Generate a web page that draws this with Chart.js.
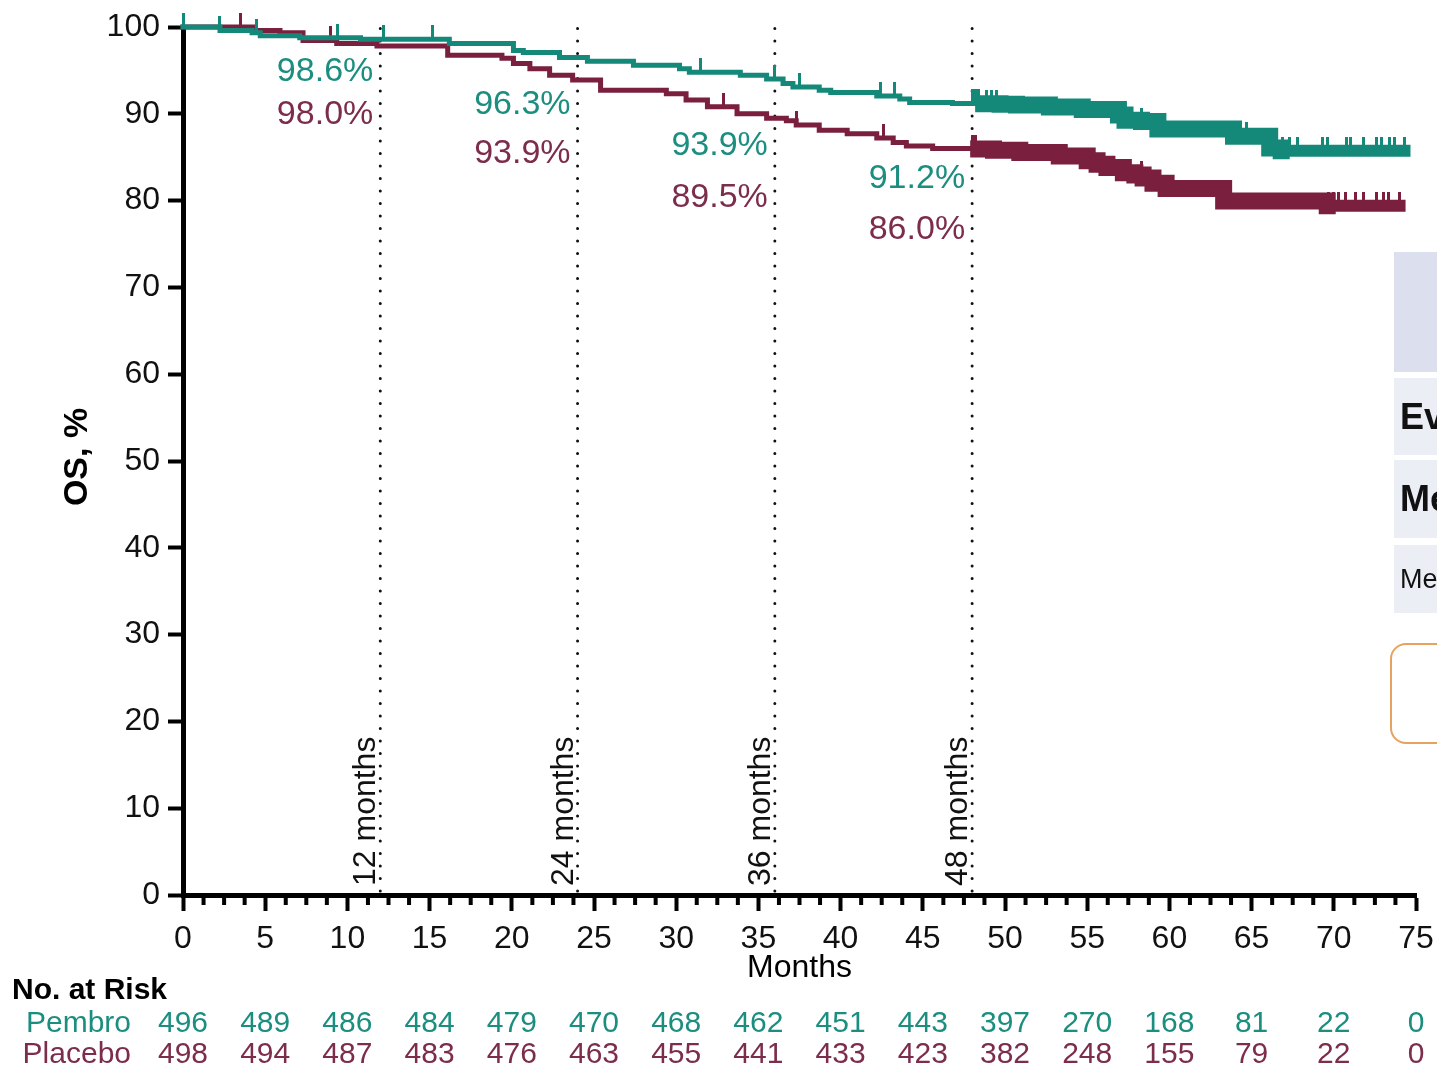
<!DOCTYPE html>
<html><head><meta charset="utf-8">
<script src="https://cdn.jsdelivr.net/npm/chart.js@4.4.1/dist/chart.umd.min.js"></script>
<style>
html,body{margin:0;padding:0;background:#fff;overflow:hidden;width:1437px;height:1066px;}
#wrap{position:relative;width:1437px;height:1066px;overflow:hidden;}
canvas{position:absolute;left:0;top:0;}
.panel{position:absolute;left:1394px;width:220px;font-family:"Liberation Sans",Arial,sans-serif;color:#111;box-sizing:border-box;padding-left:6px;display:flex;align-items:center;white-space:nowrap;}
.obox{position:absolute;left:1390px;top:643px;width:200px;height:101px;border:2px solid #e6a35f;border-radius:16px;box-sizing:border-box;}
</style></head>
<body><div id="wrap"><canvas id="c" width="1437" height="1066"></canvas>
<div class="panel" style="top:252px;height:120px;background:#dcdfee;"></div>
<div class="panel" style="top:378px;height:77px;background:#eceef5;font-weight:bold;font-size:36px;">Events</div>
<div class="panel" style="top:460px;height:78px;background:#eceef5;font-weight:bold;font-size:36px;">Median</div>
<div class="panel" style="top:545px;height:68px;background:#eceef5;font-size:27px;">Median</div>
<div class="obox"></div>
</div>
<script>
// ---------- data ----------
const pembroTimes = [0, 2.25, 4.2, 4.7, 7.1, 10.8, 16.2, 20.1, 20.7, 22.9, 24.6, 27.4, 30.2, 30.8, 33.9, 35.5, 36.5, 37.1, 38.7, 39.4, 42.2, 43.6, 44.2, 46.8, 48.7, 49.7, 50.7, 52.7, 54.7, 56.9, 57.3, 58.3, 59.3, 63.9, 66.1, 66.8, 74.3];
const pembroSurv  = [100, 99.6, 99.35, 99.0, 98.75, 98.6, 98.1, 97.3, 97.05, 96.5, 96.05, 95.6, 95.2, 94.8, 94.45, 94.0, 93.5, 93.1, 92.7, 92.45, 92.05, 91.7, 91.3, 91.2, 91.15, 91.1, 91.0, 90.77, 90.5, 89.85, 89.27, 89.1, 88.25, 87.4, 86.06, 85.75, 85.75];
const placeboTimes = [0, 4.3, 5.9, 7.3, 9.35, 11.8, 16.1, 19.4, 20.1, 21.1, 22.3, 23.7, 25.4, 29.4, 30.6, 31.9, 33.7, 35.5, 36.7, 37.3, 38.7, 40.4, 42.2, 43.2, 44.0, 45.6, 48.4, 49.3, 50.9, 53.3, 55.0, 55.6, 56.2, 57.2, 57.9, 58.4, 59.0, 59.8, 63.3, 69.6, 74.0];
const placeboSurv  = [100, 99.6, 99.35, 98.45, 98.1, 97.8, 96.75, 96.4, 95.8, 95.2, 94.45, 93.9, 92.7, 92.3, 91.6, 90.8, 90.0, 89.5, 89.2, 88.7, 88.1, 87.7, 87.2, 86.7, 86.3, 86.0, 85.95, 85.8, 85.54, 85.15, 84.58, 84.2, 83.8, 83.2, 82.95, 82.6, 82.0, 81.4, 79.95, 79.4, 79.4];
const pembroCensor  = [0, 2.25, 4.5, 9.4, 12.2, 15.2, 31.5, 36.0, 37.5, 42.4, 43.3, 48.0, 48.2, 48.4, 48.9, 49.2, 49.5, 58.3, 64.7, 66.9, 67.3, 67.8, 69.3, 69.6, 70.8, 71.0, 71.8, 72.6, 72.9, 73.4, 73.7, 74.3];
const placeboCensor = [3.5, 9.0, 32.9, 37.3, 42.6, 48.0, 48.2, 58.3, 69.7, 70.0, 70.3, 70.7, 71.3, 71.8, 72.6, 73.0, 73.3, 74.0];

const landmarkMonths = [12, 24, 36, 48];
const landmarkNames  = ['12 months', '24 months', '36 months', '48 months'];
const pembroLandmark  = ['98.6%', '96.3%', '93.9%', '91.2%'];
const placeboLandmark = ['98.0%', '93.9%', '89.5%', '86.0%'];

const riskTimes   = [0, 5, 10, 15, 20, 25, 30, 35, 40, 45, 50, 55, 60, 65, 70, 75];
const pembroRisk  = [496, 489, 486, 484, 479, 470, 468, 462, 451, 443, 397, 270, 168, 81, 22, 0];
const placeboRisk = [498, 494, 487, 483, 476, 463, 455, 441, 433, 423, 382, 248, 155, 79, 22, 0];

// ---------- styles / layout ----------
const TEAL = '#14897a', MAROON = '#7a1f3e';
const TEAL_TXT = '#1b8e7f', MAROON_TXT = '#7c2d4c';
const FONT = '"Liberation Sans", Arial, Helvetica, sans-serif';
const labelLayout = { pembroY: [94.9, 91.0, 86.3, 82.5], placeboY: [89.9, 85.4, 80.3, 76.7] };
const bandStyle = { Pembro: { from: 48.7, to: 66.8 }, Placebo: { from: 48.4, to: 69.6 } };

function km(t, s) { return t.map((v, i) => ({ x: v, y: s[i] })); }
function survAt(t, s, x) { let v = s[0]; for (let i = 0; i < t.length; i++) { if (t[i] <= x) v = s[i]; } return v; }
function censorPts(ct, t, s) { return ct.map(c => ({ x: c, y: survAt(t, s, c) })); }
function tickCanvas(color) {
  const cv = document.createElement('canvas');
  cv.width = 3; cv.height = 28;
  const g = cv.getContext('2d'); g.fillStyle = color; g.fillRect(0, 0, 3, 14);
  return cv;
}
function bandWidth(name) {
  return c => { const x0 = c.p0.parsed.x; const b = bandStyle[name];
    if (x0 >= b.to) return 12; if (x0 >= b.from) return 17; return 5; };
}

const overlay = {
  id: 'overlay',
  beforeDatasetsDraw(chart) {
    const { ctx, chartArea: a, scales: { x } } = chart;
    ctx.save();
    ctx.strokeStyle = '#111'; ctx.lineWidth = 3; ctx.lineCap = 'round'; ctx.setLineDash([0.1, 12.4]);
    landmarkMonths.forEach(m => { const px = x.getPixelForValue(m);
      ctx.beginPath(); ctx.moveTo(px, a.bottom - 4); ctx.lineTo(px, a.top - 4); ctx.stroke(); });
    ctx.restore();
  },
  afterDraw(chart) {
    const { ctx, chartArea: a, scales: { x, y } } = chart;
    ctx.save();
    // minor x ticks
    ctx.fillStyle = '#000';
    for (let v = 0; v <= 75.001; v += 1.25) {
      if (Math.abs(v / 5 - Math.round(v / 5)) < 1e-6) continue;
      const px = x.getPixelForValue(v);
      ctx.fillRect(px - 2, a.bottom, 4, 10);
    }
    // rotated landmark labels
    ctx.font = '32px ' + FONT; ctx.fillStyle = '#111';
    landmarkMonths.forEach((m, i) => {
      const px = x.getPixelForValue(m);
      ctx.save(); ctx.translate(px - 5, a.bottom - 9); ctx.rotate(-Math.PI / 2);
      ctx.textAlign = 'left'; ctx.textBaseline = 'alphabetic'; ctx.fillText(landmarkNames[i], 0, 0);
      ctx.restore();
    });
    // landmark percentages
    ctx.font = '34px ' + FONT; ctx.textAlign = 'right'; ctx.textBaseline = 'middle';
    landmarkMonths.forEach((m, i) => {
      const px = x.getPixelForValue(m) - 7;
      ctx.fillStyle = TEAL_TXT; ctx.fillText(pembroLandmark[i], px, y.getPixelForValue(labelLayout.pembroY[i]));
      ctx.fillStyle = MAROON_TXT; ctx.fillText(placeboLandmark[i], px, y.getPixelForValue(labelLayout.placeboY[i]));
    });
    // axis titles
    ctx.fillStyle = '#000';
    ctx.save(); ctx.translate(78, (a.top + a.bottom) / 2 - 4); ctx.rotate(-Math.PI / 2);
    ctx.font = 'bold 34px ' + FONT; ctx.textAlign = 'center'; ctx.textBaseline = 'middle';
    ctx.fillText('OS, %', 0, 0); ctx.restore();
    ctx.font = '32px ' + FONT; ctx.textAlign = 'center'; ctx.textBaseline = 'middle';
    ctx.fillText('Months', (a.left + a.right) / 2, a.bottom + 73);
    // risk table
    ctx.font = 'bold 30px ' + FONT; ctx.textAlign = 'left'; ctx.fillStyle = '#000';
    ctx.fillText('No. at Risk', 12, a.bottom + 96);
    ctx.font = '30px ' + FONT; ctx.textAlign = 'right';
    ctx.fillStyle = TEAL_TXT; ctx.fillText('Pembro', 131, a.bottom + 129);
    ctx.fillStyle = MAROON_TXT; ctx.fillText('Placebo', 131, a.bottom + 160);
    ctx.textAlign = 'center';
    riskTimes.forEach((t, i) => {
      const px = x.getPixelForValue(t);
      ctx.fillStyle = TEAL_TXT; ctx.fillText(String(pembroRisk[i]), px, a.bottom + 129);
      ctx.fillStyle = MAROON_TXT; ctx.fillText(String(placeboRisk[i]), px, a.bottom + 160);
    });
    ctx.restore();
  }
};

new Chart(document.getElementById('c'), {
  type: 'line',
  data: { datasets: [
    { type: 'scatter', label: 'Pembro censored', data: censorPts(pembroCensor, pembroTimes, pembroSurv),
      pointStyle: tickCanvas(TEAL), pointRadius: 6, showLine: false, clip: false },
    { label: 'Pembro', data: km(pembroTimes, pembroSurv), borderColor: TEAL, stepped: 'before', pointRadius: 0,
      borderWidth: 5, borderCapStyle: 'square', borderJoinStyle: 'miter', segment: { borderWidth: bandWidth('Pembro') }, clip: false },
    { type: 'scatter', label: 'Placebo censored', data: censorPts(placeboCensor, placeboTimes, placeboSurv),
      pointStyle: tickCanvas(MAROON), pointRadius: 6, showLine: false, clip: false },
    { label: 'Placebo', data: km(placeboTimes, placeboSurv), borderColor: MAROON, stepped: 'before', pointRadius: 0,
      borderWidth: 5, borderCapStyle: 'square', borderJoinStyle: 'miter', segment: { borderWidth: bandWidth('Placebo') }, clip: false }
  ]},
  options: {
    responsive: false, animation: false, devicePixelRatio: 1,
    layout: { padding: { left: 0, top: 27, right: 21, bottom: 0 } },
    plugins: { legend: { display: false }, tooltip: { enabled: false } },
    scales: {
      x: { type: 'linear', min: 0, max: 75,
        afterFit: s => { s.height = 171; s.paddingLeft = 0; s.paddingRight = 0; },
        border: { display: true, color: '#000', width: 5 },
        grid: { drawOnChartArea: false, drawTicks: true, tickLength: 16, tickWidth: 4, tickColor: '#000' },
        ticks: { stepSize: 5, autoSkip: false, maxRotation: 0, color: '#111', padding: 9, font: { family: FONT, size: 32 } } },
      y: { min: 0, max: 100,
        afterFit: s => { s.width = 183; s.paddingTop = 0; s.paddingBottom = 0; },
        border: { display: true, color: '#000', width: 5 },
        grid: { drawOnChartArea: false, drawTicks: true, tickLength: 15, tickWidth: 4, tickColor: '#000' },
        ticks: { stepSize: 10, color: '#111', padding: 8, font: { family: FONT, size: 32 } } }
    }
  },
  plugins: [overlay]
});
</script>
</body></html>
